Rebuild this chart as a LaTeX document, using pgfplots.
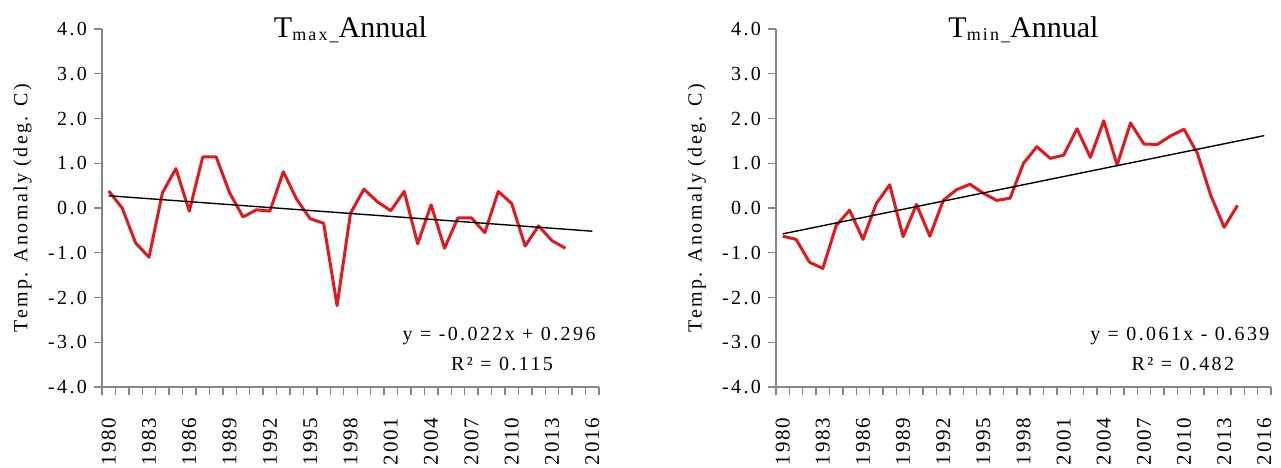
\documentclass[border=0pt]{standalone}
\usepackage{fontspec}
\setmainfont{Liberation Serif}
\newfontfamily\tickfont[LetterSpace=12]{Liberation Serif}
\newfontfamily\yearfont[LetterSpace=8]{Liberation Serif}
\usepackage{pgfplots}
\pgfplotsset{compat=1.18}
\definecolor{tred}{RGB}{225,25,30}
\definecolor{axgray}{RGB}{134,134,134}
\pgfplotstableread{
year val
1980 0.38
1981 0.00
1982 -0.78
1983 -1.10
1984 0.34
1985 0.88
1986 -0.07
1987 1.14
1988 1.14
1989 0.34
1990 -0.20
1991 -0.04
1992 -0.07
1993 0.81
1994 0.19
1995 -0.24
1996 -0.34
1997 -2.18
1998 -0.12
1999 0.42
2000 0.14
2001 -0.06
2002 0.37
2003 -0.80
2004 0.07
2005 -0.90
2006 -0.22
2007 -0.22
2008 -0.55
2009 0.37
2010 0.10
2011 -0.85
2012 -0.40
2013 -0.73
2014 -0.90
}\tmax
\pgfplotstableread{
year val
1980 -0.63
1981 -0.70
1982 -1.21
1983 -1.35
1984 -0.39
1985 -0.05
1986 -0.70
1987 0.10
1988 0.52
1989 -0.64
1990 0.08
1991 -0.63
1992 0.17
1993 0.41
1994 0.53
1995 0.33
1996 0.17
1997 0.22
1998 1.00
1999 1.37
2000 1.11
2001 1.18
2002 1.77
2003 1.13
2004 1.95
2005 0.96
2006 1.90
2007 1.43
2008 1.42
2009 1.61
2010 1.76
2011 1.22
2012 0.28
2013 -0.43
2014 0.06
}\tmin
\pgfplotsset{
 tplot/.style={
  scale only axis, height=179pt, anchor=south west,
  xmin=1979.5, xmax=2016.5, ymin=-4, ymax=4,
  axis lines*=left,
  axis line style={axgray, line width=0.7pt},
  tick align=outside, major tick length=4pt,
  tick style={axgray, line width=0.7pt},
  xtick={1979.5,1980.5,...,2016.5}, xticklabels={},
  xticklabel shift=8pt,
  extra x ticks={1980,1983,...,2016},
  extra x tick labels={1980,1983,1986,1989,1992,1995,1998,2001,2004,2007,2010,2013,2016},
  extra x tick style={tick style={draw=none},
     xticklabel style={rotate=90, anchor=east, font=\fontsize{10.5}{12}\yearfont}},
  ytick={-4,...,4}, yticklabels={-4.0,-3.0,-2.0,-1.0,0.0,1.0,2.0,3.0,4.0},
  yticklabel style={font=\fontsize{10}{12}\tickfont},
  ylabel={Temp. Anomaly (deg. C)},
  ylabel style={font=\fontsize{10}{12}\tickfont, at={(axis description cs:-0.16,0.5)}, anchor=center},
  title style={font=\fontsize{15}{18}\selectfont, at={(axis description cs:0.5,0.944)}, anchor=base},
  clip=false,
 }
}
\begin{document}
\begin{tikzpicture}
\useasboundingbox (0,0) rectangle (640.5pt,233.5pt);
\begin{axis}[tplot, at={(51pt,40pt)}, width=248.5pt,
  title={T\raisebox{-1.5pt}{\fontsize{9}{10}\tickfont max\_}Annual}]
\addplot[tred, line width=1.5pt, line join=round] table[x=year,y=val]{\tmax};
\addplot[black, line width=0.7pt] coordinates {(1980,0.274) (2016,-0.518)};
\node[font=\fontsize{10}{12}\tickfont, anchor=base] at (rel axis cs:0.799,0.131) {y = -0.022x + 0.296};
\node[font=\fontsize{10}{12}\tickfont, anchor=base] at (rel axis cs:0.805,0.045) {R² = 0.115};
\end{axis}
\begin{axis}[tplot, at={(388pt,40pt)}, width=247.5pt,
  title={T\raisebox{-1.5pt}{\fontsize{9}{10}\tickfont min\_}Annual}]
\addplot[tred, line width=1.5pt, line join=round] table[x=year,y=val]{\tmin};
\addplot[black, line width=0.7pt] coordinates {(1980,-0.578) (2016,1.618)};
\node[font=\fontsize{10}{12}\tickfont, anchor=base] at (rel axis cs:0.816,0.131) {y = 0.061x - 0.639};
\node[font=\fontsize{10}{12}\tickfont, anchor=base] at (rel axis cs:0.822,0.045) {R² = 0.482};
\end{axis}
\end{tikzpicture}
\end{document}
